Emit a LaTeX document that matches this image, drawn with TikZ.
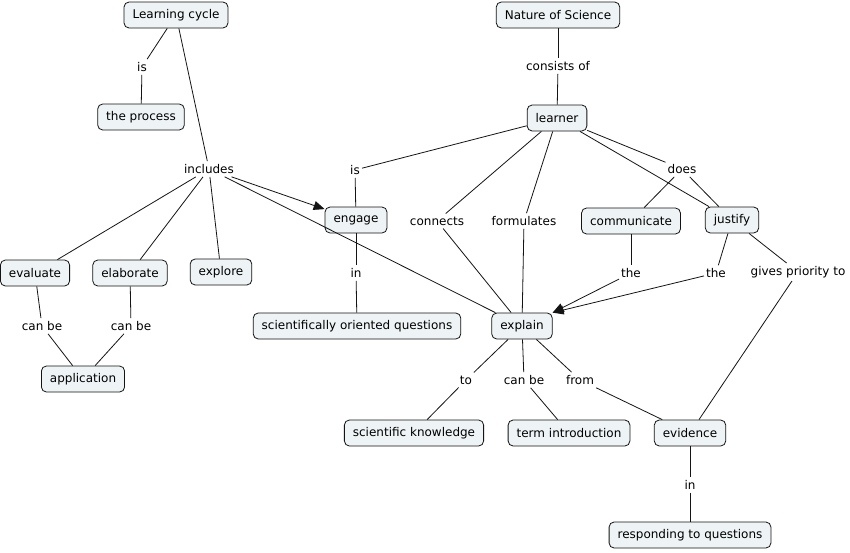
\documentclass[tikz,border=0pt]{standalone}
\usepackage{fontspec}
\setmainfont{DejaVu Sans}
\usetikzlibrary{arrows.meta}
\definecolor{boxfill}{RGB}{238,243,245}
\definecolor{linecol}{RGB}{20,20,20}
\tikzset{
  concept/.style={draw=linecol, fill=boxfill, rounded corners=5pt, line width=0.8pt,
    inner xsep=8.5pt, inner ysep=0pt, minimum height=26pt,
    font=\fontsize{12}{14}\selectfont, text=black},
  linkphrase/.style={inner xsep=2pt, inner ysep=3pt, font=\fontsize{12}{14}\selectfont, text=black},
  conn/.style={draw=linecol, line width=0.8pt},
  arr/.style={conn, -{Triangle[length=11pt,width=9pt]}}
}
\begin{document}
\begin{tikzpicture}[x=1pt,y=-1pt]
\useasboundingbox[fill=white] (0,0) rectangle (850,552);
% concepts
\node[concept] (LC) at (176,15) {Learning cycle};
\node[concept] (proc) at (141,117) {the process};
\node[concept] (NoS) at (558,15) {Nature of Science};
\node[concept] (learner) at (557,118) {learner};
\node[concept] (engage) at (356,220) {engage};
\node[concept] (communicate) at (631,221) {communicate};
\node[concept] (justify) at (732,220) {justify};
\node[concept] (evaluate) at (35,273) {evaluate};
\node[concept] (elaborate) at (130,273) {elaborate};
\node[concept] (explore) at (221,272) {explore};
\node[concept] (application) at (83,379) {application};
\node[concept] (soq) at (357,326) {scientifically oriented questions};
\node[concept] (explain) at (522,326) {explain};
\node[concept] (sk) at (414,433) {scientific knowledge};
\node[concept] (ti) at (569,433) {term introduction};
\node[concept] (evidence) at (690,433) {evidence};
\node[concept] (rq) at (690,535) {responding to questions};
% linking phrases
\node[linkphrase] (is1) at (142,67) {is};
\node[linkphrase] (inc) at (209,169) {includes};
\node[linkphrase] (cons) at (558,66) {consists of};
\node[linkphrase] (is2) at (355,170) {is};
\node[linkphrase] (does) at (682,169) {does};
\node[linkphrase] (connects) at (437,221) {connects};
\node[linkphrase] (formulates) at (524,221) {formulates};
\node[linkphrase] (canbe1) at (42,326) {can be};
\node[linkphrase] (canbe2) at (131,326) {can be};
\node[linkphrase] (in1) at (356,273) {in};
\node[linkphrase] (the1) at (631,273) {the};
\node[linkphrase] (the2) at (716,273) {the};
\node[linkphrase] (gpt) at (798,272) {gives priority to};
\node[linkphrase] (to) at (466,380) {to};
\node[linkphrase] (canbe3) at (524,380) {can be};
\node[linkphrase] (from) at (580,380) {from};
\node[linkphrase] (in2) at (690,485) {in};
% connectors
\draw[conn] (LC) -- (is1);
\draw[conn] (is1) -- (proc);
\draw[conn] (LC) -- (inc);
\draw[arr] (inc) -- (engage);
\draw[conn] (inc) -- (evaluate);
\draw[conn] (inc) -- (elaborate);
\draw[conn] (inc) -- (explore);
\draw[conn] (inc) -- (explain);
\draw[conn] (NoS) -- (cons);
\draw[conn] (cons) -- (learner);
\draw[conn] (learner) -- (is2);
\draw[conn] (is2) -- (engage);
\draw[conn] (learner) -- (connects);
\draw[conn] (connects) -- (explain);
\draw[conn] (learner) -- (formulates);
\draw[conn] (formulates) -- (explain);
\draw[conn] (learner) -- (does);
\draw[conn] (does) -- (communicate);
\draw[conn] (does) -- (justify);
\draw[conn] (learner) -- (justify);
\draw[conn] (communicate) -- (the1);
\draw[arr] (the1) -- (explain.north east);
\draw[conn] (justify) -- (the2);
\draw[arr] (the2) -- (explain.north east);
\draw[conn] (justify) -- (gpt);
\draw[conn] (gpt) -- (evidence);
\draw[conn] (engage) -- (in1);
\draw[conn] (in1) -- (soq);
\draw[conn] (evaluate) -- (canbe1);
\draw[conn] (canbe1) -- (application);
\draw[conn] (elaborate) -- (canbe2);
\draw[conn] (canbe2) -- (application);
\draw[conn] (explain) -- (to);
\draw[conn] (to) -- (sk);
\draw[conn] (explain) -- (canbe3);
\draw[conn] (canbe3) -- (ti);
\draw[conn] (explain) -- (from);
\draw[conn] (from) -- (evidence);
\draw[conn] (evidence) -- (in2);
\draw[conn] (in2) -- (rq);
\end{tikzpicture}
\end{document}
